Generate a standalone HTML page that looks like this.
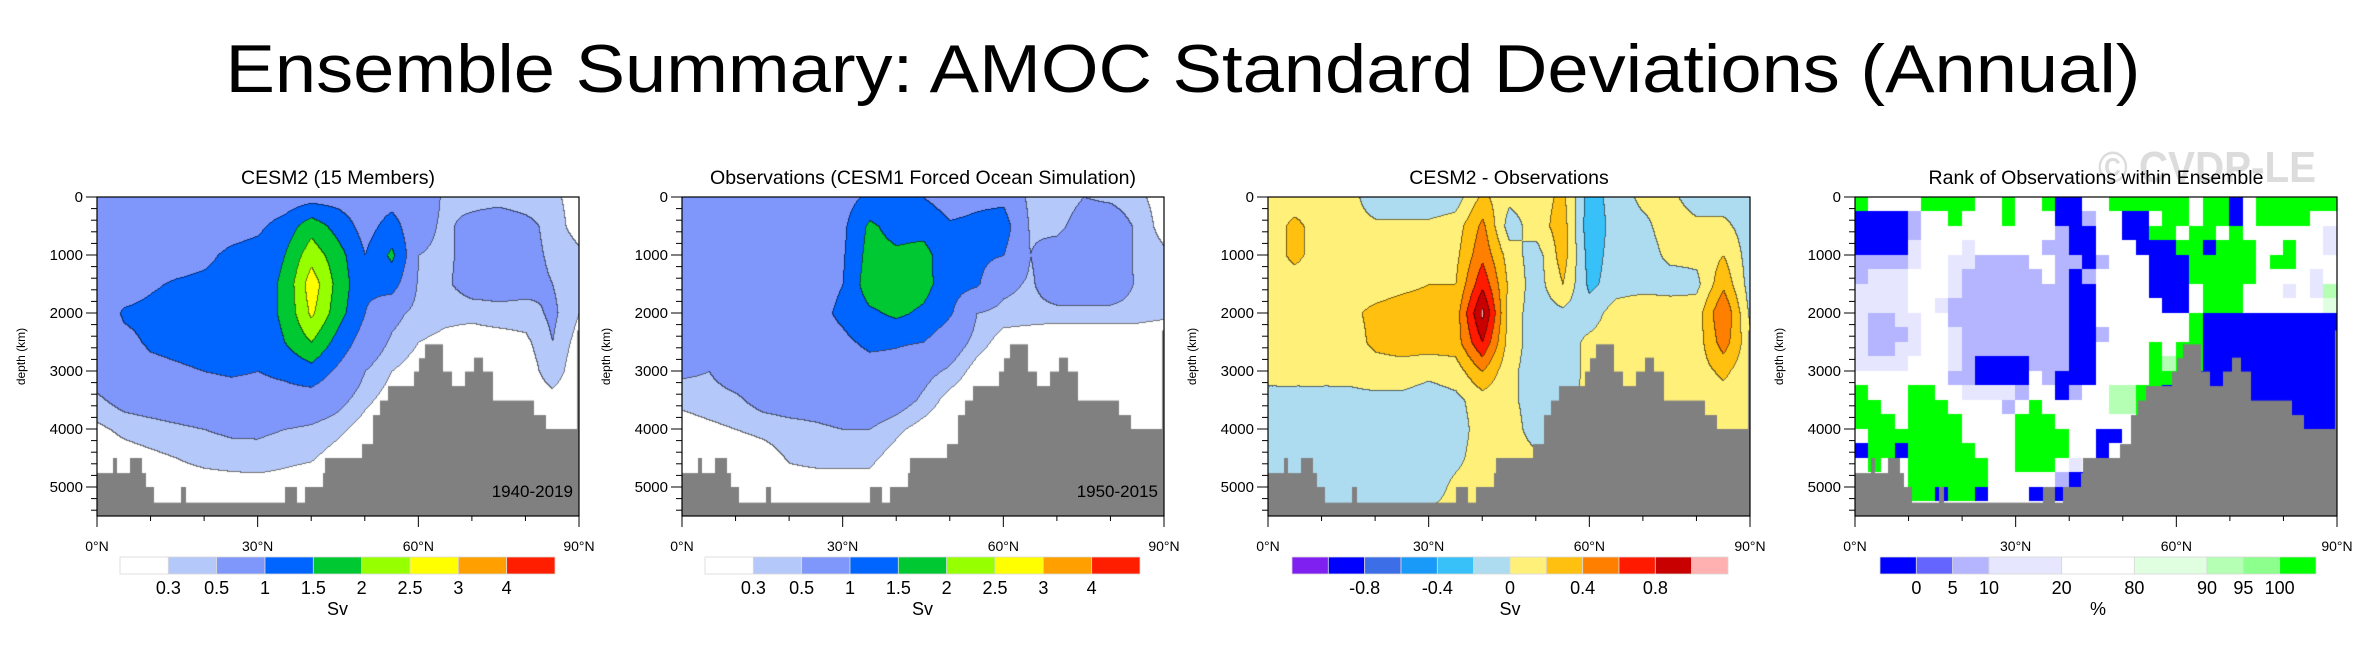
<!DOCTYPE html>
<html><head><meta charset="utf-8">
<style>
html,body{margin:0;padding:0;background:#fff;}
#root{position:relative;width:2367px;height:650px;overflow:hidden;font-family:"Liberation Sans",sans-serif;}
canvas{position:absolute;}
svg{position:absolute;left:0;top:0;}
</style></head>
<body>
<div id="root">
<canvas id="c0"></canvas>
<canvas id="c1"></canvas>
<canvas id="c2"></canvas>
<canvas id="c3"></canvas>
<svg id="ov" width="2367" height="650"></svg>
</div>
<script>
// ---------- data ----------
const latCols = [0,5,10,15,20,25,30,35,40,45,50,55,60,65,70,75,80,85,90];
const depthRows = [0,500,1000,1500,2000,2500,3000,3500,4000,4500,5000,5500];

const cesm2Grid = [
 [.7,.7,.7,.7,.7,.7,.7,.7,.8,.8,.7,.8,.7,.45,.4,.4,.35,.35,.2],
 [.7,.7,.7,.7,.7,.8,.9,1.2,1.8,1.3,.8,1.2,.6,.45,.6,.7,.6,.4,.2],
 [.7,.7,.8,.8,.9,1.1,1.2,1.5,2.3,1.7,1.0,1.6,.5,.45,.6,.7,.6,.45,.35],
 [.7,.8,.95,1.05,1.1,1.15,1.25,1.6,2.8,1.8,1.1,1.2,.45,.45,.65,.65,.6,.5,.35],
 [.7,1.05,1.1,1.15,1.2,1.2,1.25,1.6,2.6,1.7,1.0,.6,.4,.35,.35,.4,.4,.55,.3],
 [.7,.9,1.05,1.1,1.15,1.15,1.2,1.5,2.0,1.3,.75,.45,.3,.25,.2,.2,.25,.5,.2],
 [.65,.8,.9,.95,1.0,1.05,1.0,1.1,1.3,.9,.5,.3,.2,.15,.1,.1,.15,.45,.1],
 [.45,.6,.65,.7,.75,.8,.8,.8,.75,.6,.35,.2,.1,.1,.1,.1,.1,.2,.1],
 [.25,.35,.4,.45,.5,.55,.55,.5,.45,.35,.2,.1,.1,.1,.1,.1,.1,.1,.1],
 [.15,.2,.25,.3,.35,.38,.4,.35,.32,.2,.1,.1,.1,.1,.1,.1,.1,.1,.1],
 [.1,.15,.2,.2,.2,.2,.2,.2,.15,.1,.1,.1,.1,.1,.1,.1,.1,.1,.1],
 [.1,.1,.1,.1,.1,.1,.1,.1,.1,.1,.1,.1,.1,.1,.1,.1,.1,.1,.1]
];
const obsGrid = [
 [.7,.7,.7,.7,.7,.7,.8,1.1,1.0,1.0,.8,.9,.9,.4,.3,.5,.45,.35,.2],
 [.7,.7,.7,.7,.7,.75,.9,1.6,1.3,1.3,1.05,1.1,1.2,.45,.4,.7,.7,.45,.2],
 [.7,.7,.7,.7,.7,.8,.95,1.7,1.6,1.7,1.1,1.1,1.0,.5,.7,.75,.7,.45,.35],
 [.7,.7,.7,.75,.75,.8,1.0,1.8,1.9,1.7,1.15,1.05,.6,.45,.75,.75,.75,.45,.4],
 [.7,.7,.7,.8,.8,.85,1.1,1.4,1.6,1.4,1.05,.5,.4,.4,.4,.4,.4,.4,.35],
 [.7,.7,.7,.75,.75,.8,.9,1.1,1.05,1.0,.7,.4,.2,.15,.1,.1,.1,.1,.1],
 [.55,.5,.65,.7,.7,.72,.75,.8,.8,.6,.45,.2,.1,.1,.1,.1,.1,.1,.1],
 [.35,.4,.45,.6,.65,.65,.7,.75,.65,.45,.2,.1,.1,.1,.1,.1,.1,.1,.1],
 [.2,.25,.3,.35,.4,.45,.5,.5,.35,.2,.1,.1,.1,.1,.1,.1,.1,.1,.1],
 [.1,.1,.15,.2,.32,.35,.35,.35,.2,.1,.1,.1,.1,.1,.1,.1,.1,.1,.1],
 [.1,.1,.1,.15,.2,.2,.2,.2,.1,.1,.1,.1,.1,.1,.1,.1,.1,.1,.1],
 [.1,.1,.1,.1,.1,.1,.1,.1,.1,.1,.1,.1,.1,.1,.1,.1,.1,.1,.1]
];
const diffGrid = [
 [.1,.1,.1,.1,-.15,-.15,-.15,-.1,.25,.05,.1,.25,-.3,-.1,.05,.05,-.1,-.1,-.1],
 [.1,.25,.1,.1,.05,.05,.05,.1,.45,-.1,.1,.3,-.35,-.1,-.05,.1,.05,.05,-.1],
 [.1,.25,.1,.1,.1,.1,.1,.15,.55,.1,-.1,.3,-.3,-.1,-.1,.05,.05,.2,-.1],
 [.1,.1,.1,.1,.1,.15,.2,.2,.75,.15,-.1,.2,-.25,-.1,-.1,-.1,-.05,.35,-.1],
 [.1,.1,.1,.15,.25,.3,.3,.3,1.05,.1,-.1,-.05,-.1,.1,.2,.15,.1,.6,-.05],
 [.1,.1,.1,.1,.25,.3,.3,.3,.8,.1,-.1,-.1,.05,.1,.1,.1,.1,.5,.05],
 [.05,.05,.05,.05,.1,.1,.05,.1,.4,.05,-.1,-.1,.05,.05,.05,.05,.1,.25,.05],
 [-.05,-.05,-.05,-.05,-.05,-.05,-.1,-.05,.1,.05,-.1,-.05,.05,.05,.05,.05,.05,.1,.05],
 [-.1,-.1,-.1,-.1,-.1,-.1,-.1,-.1,.1,.1,-.1,.05,.05,.05,.05,.05,.05,.05,.05],
 [-.1,-.1,-.1,-.1,-.1,-.1,-.1,-.05,.1,.1,.05,.05,.05,.05,.05,.05,.05,.05,.05],
 [.05,-.1,-.1,-.1,-.1,-.1,-.1,.05,.1,.05,.05,.05,.05,.05,.05,.05,.05,.05,.05],
 [.05,.05,.05,.05,.05,.05,.05,.05,.05,.05,.05,.05,.05,.05,.05,.05,.05,.05,.05]
];
// rank categories per 2.5 deg x 250 m cell (0=<0 ... 8=>100)
const rankRows = [
 "844448888448448004488888848804888888",
 "000024484448444002440048848804888844",
 "000024444444444200440088488484444443",
 "000034443444442200444000880888448443",
 "222234433222244220244400088888488444",
 "233344432222224202444400088888444434",
 "333344432222222200444400048884443436",
 "333344322222222200444440048884444445",
 "322334422222222200444444480000000000",
 "322234432222222200244444480000000000",
 "322334432222222200444484880000000000",
 "333344432000022200444486880000000000",
 "444444422000042000444488800000000000",
 "844488443333244024466880000000000000",
 "884488844442484444466880000000000000",
 "888488884444888444444800000000000000",
 "488888884444888844004400000000000000",
 "088088888444888844044400000000000000",
 "484488888844888434000000000000000000",
 "444488888844444200400000000000000000",
 "444488088044400000000000000000000000",
 "444444444444444444444444444444444444"
];
const bathyLatStarts = [0,3,3.5,6.2,8.1,9,10.4,15.7,16.4,35.2,37.1,38.9,42.2,42.7,49.6,51.7,53,54.5,59.3,60.3,61.4,64.5,66.1,68.8,70.5,71.9,73.7,81.5,83.6,89.7];
const bathyDepths   = [4760,4500,4760,4500,4760,5000,5270,5000,5270,5000,5270,5000,4760,4500,4260,3760,3510,3260,3010,2780,2540,3010,3260,3010,2770,3010,3510,3760,4000,2300];

const sdLevels = [0.3,0.5,1,1.5,2,2.5,3,4];
const sdLabels = ["0.3","0.5","1","1.5","2","2.5","3","4"];
const sdColors = ["#ffffff","#b4c8fa","#7f96fa","#0064ff","#00c832","#96ff00","#ffff00","#ffa000","#ff1e00"];
const diffLevels = [-1,-0.8,-0.6,-0.4,-0.2,0,0.2,0.4,0.6,0.8,1];
const diffLabels = ["","-0.8","","-0.4","","0","","0.4","","0.8",""];
const diffColors = ["#8020f0","#0000ff","#3c6ee8","#1a9af8","#38c0f8","#addcf0","#fff07a","#ffc010","#ff8000","#ff1a00","#c80000","#ffb0b0"];
const rankLabels = ["0","5","10","20","80","90","95","100"];
const rankWidths = [1,1,1,2,2,2,1,1,1];
const rankColors = ["#0000ff","#6464ff","#b4b4ff","#e6e6ff","#ffffff","#e0ffe0","#b4ffb4","#8cff8c","#00ff00"];
const xTickLats = [0,30,60,90];
const yTickDepths = [0,1000,2000,3000,4000,5000];

// ---------- layout ----------
const panelLeft = [97,682,1268,1855];
const plotTop = 197, plotW = 482, plotH = 319, maxDepth = 5500;
function xOf(p,lat){return panelLeft[p] + lat/90*plotW;}
function yOf(d){return plotTop + d/maxDepth*plotH;}
const NS="http://www.w3.org/2000/svg";
const ov=document.getElementById('ov');
function el(tag,attrs,parent){const e=document.createElementNS(NS,tag);for(const k in attrs)e.setAttribute(k,attrs[k]);(parent||ov).appendChild(e);return e;}
function txt(s,attrs){const e=el('text',attrs);e.textContent=s;return e;}

function bilinear(g,lat,d){
  let c=lat/5, r=d/500;
  let c0=Math.min(Math.floor(c),17), r0=Math.min(Math.floor(r),10);
  let fc=c-c0, fr=r-r0;
  return g[r0][c0]*(1-fc)*(1-fr)+g[r0][c0+1]*fc*(1-fr)+g[r0+1][c0]*(1-fc)*fr+g[r0+1][c0+1]*fc*fr;
}
function hex(h){return [parseInt(h.substr(1,2),16),parseInt(h.substr(3,2),16),parseInt(h.substr(5,2),16)];}
function levelIdx(v,levels){let i=0;while(i<levels.length&&v>=levels[i])i++;return i;}

function setupCanvas(id,p){
  const c=document.getElementById(id);
  c.width=plotW;c.height=plotH;
  c.style.left=panelLeft[p]+'px';c.style.top=plotTop+'px';
  return c.getContext('2d');
}
function drawField(id,p,grid,levels,colors){
  const ctx=setupCanvas(id,p);
  const img=ctx.createImageData(plotW,plotH);
  const rgb=colors.map(hex);
  const idx=new Int8Array(plotW*plotH);
  for(let y=0;y<plotH;y++){
    const d=(y+0.5)/plotH*maxDepth;
    for(let x=0;x<plotW;x++){
      const lat=(x+0.5)/plotW*90;
      idx[y*plotW+x]=levelIdx(bilinear(grid,lat,d),levels);
    }
  }
  for(let y=0;y<plotH;y++){
    for(let x=0;x<plotW;x++){
      const i=y*plotW+x, li=idx[i];
      let col=rgb[li];
      const edge=(x>0&&idx[i-1]!==li)||(y>0&&idx[i-plotW]!==li);
      const k=i*4;
      if(edge){img.data[k]=col[0]*0.45;img.data[k+1]=col[1]*0.45;img.data[k+2]=col[2]*0.45;}
      else{img.data[k]=col[0];img.data[k+1]=col[1];img.data[k+2]=col[2];}
      img.data[k+3]=255;
    }
  }
  ctx.putImageData(img,0,0);
  drawBathy(ctx,p);
}
function drawBathy(ctx,p){
  ctx.fillStyle="#808080";
  for(let i=0;i<bathyLatStarts.length;i++){
    const a=bathyLatStarts[i], b=i+1<bathyLatStarts.length?bathyLatStarts[i+1]:90;
    const x0=xOf(p,a)-panelLeft[p], x1=xOf(p,b)-panelLeft[p];
    const y0=yOf(bathyDepths[i])-plotTop;
    ctx.fillRect(Math.floor(x0),y0,Math.ceil(x1-x0)+1,plotH-y0);
  }
}
drawField('c0',0,cesm2Grid,sdLevels,sdColors);
drawField('c1',1,obsGrid,sdLevels,sdColors);
drawField('c2',2,diffGrid,diffLevels,diffColors);
(function(){
  const ctx=setupCanvas('c3',3);
  for(let r=0;r<rankRows.length;r++){
    const row=(rankRows[r]+"444444444444444444444444444444444444").substr(0,36);
    for(let c=0;c<36;c++){
      ctx.fillStyle=rankColors[+row[c]];
      const x0=xOf(3,c*2.5)-panelLeft[3], x1=xOf(3,(c+1)*2.5)-panelLeft[3];
      const y0=yOf(r*250)-plotTop, y1=yOf((r+1)*250)-plotTop;
      ctx.fillRect(Math.floor(x0),Math.floor(y0),Math.ceil(x1-x0)+1,Math.ceil(y1-y0)+1);
    }
  }
  drawBathy(ctx,3);
})();

// ---------- title & watermark ----------
let t=txt("Ensemble Summary: AMOC Standard Deviations (Annual)",{x:1183,y:92,'font-size':68,'text-anchor':'middle',fill:'#000',textLength:1915,lengthAdjust:'spacingAndGlyphs'});


t=txt("© CVDP-LE",{x:2207,y:182,'font-size':44,'font-weight':'bold','text-anchor':'middle',fill:'#dcdcdc',textLength:218,lengthAdjust:'spacingAndGlyphs'});



const panelTitles=["CESM2 (15 Members)","Observations (CESM1 Forced Ocean Simulation)","CESM2 - Observations","Rank of Observations within Ensemble"];
const yearLabels=["1940-2019","1950-2015","",""];
for(let p=0;p<4;p++){
  const L=panelLeft[p], R=L+plotW, B=plotTop+plotH;
  t=txt(panelTitles[p],{x:L+plotW/2,y:184,'font-size':19.5,'text-anchor':'middle',fill:'#000'});
  
  
  const fr=el('rect',{x:L,y:plotTop,width:plotW,height:plotH,fill:'none',stroke:'#000','stroke-width':1.2});
  
  
  for(let d=0;d<=5400;d+=200){
    const major=d%1000===0;
    el('line',{x1:L-(major?11:6),x2:L,y1:yOf(d),y2:yOf(d),stroke:'#000','stroke-width':1});
  }
  for(const d of yTickDepths){
    t=txt(String(d),{x:L-14,y:yOf(d)+5,'font-size':15,'text-anchor':'end',fill:'#000'});
    
    
  }
  t=txt("depth (km)",{x:0,y:0,'font-size':12,'text-anchor':'middle',fill:'#000',transform:`translate(${L-72},${(plotTop+B)/2}) rotate(-90)`});
  
  
  for(let lat=0;lat<=90;lat+=10){
    const major=lat%30===0;
    el('line',{x1:xOf(p,lat),x2:xOf(p,lat),y1:B,y2:B+(major?11:5),stroke:'#000','stroke-width':1});
  }
  for(const lat of xTickLats){
    t=txt(lat+"°N",{x:xOf(p,lat),y:551,'font-size':14,'text-anchor':'middle',fill:'#000'});
    
    
  }
  if(yearLabels[p]){
    t=txt(yearLabels[p],{x:R-6,y:497,'font-size':17,'text-anchor':'end',fill:'#000'});
    
    
  }
}

// ---------- colorbars ----------
const cbTop=557, cbH=17;
function colorbar(x0,x1,colors,widths,labels,unit){
  const total=widths.reduce((a,b)=>a+b,0);
  let x=x0; const edges=[x0];
  for(let i=0;i<colors.length;i++){
    const w=(x1-x0)*widths[i]/total;
    const r=el('rect',{x:x,y:cbTop,width:w,height:cbH,fill:colors[i],stroke:'#d8d8d8','stroke-width':0.8});
    
    
    x+=w; edges.push(x);
  }
  for(let i=0;i<labels.length;i++){
    if(!labels[i])continue;
    t=txt(labels[i],{x:edges[i+1],y:594,'font-size':18,'text-anchor':'middle',fill:'#000'});
    
    
  }
  t=txt(unit,{x:(x0+x1)/2,y:615,'font-size':18,'text-anchor':'middle',fill:'#000'});
  
  
}
colorbar(120,555,sdColors,sdColors.map(()=>1),sdLabels,"Sv");
colorbar(705,1140,sdColors,sdColors.map(()=>1),sdLabels,"Sv");
colorbar(1292,1728,diffColors,diffColors.map(()=>1),diffLabels,"Sv");
colorbar(1880,2316,rankColors,rankWidths,rankLabels,"%");
</script>
</body></html>
